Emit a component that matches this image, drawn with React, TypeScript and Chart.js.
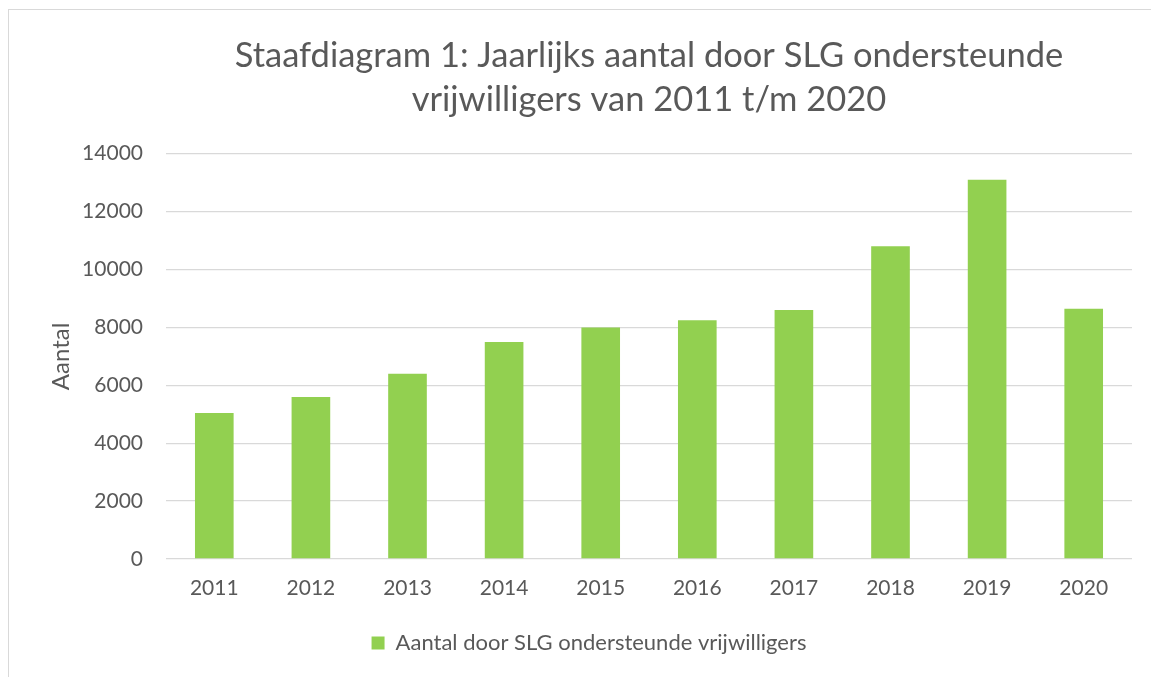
import React, { useEffect, useRef } from "react";
import { Chart, registerables } from "chart.js";

Chart.register(...registerables);

const years = ["2011", "2012", "2013", "2014", "2015", "2016", "2017", "2018", "2019", "2020"];
const volunteers = [5040, 5600, 6400, 7500, 8000, 8250, 8600, 10800, 13100, 8640];
const titleLines = ["Staafdiagram 1: Jaarlijks aantal door SLG ondersteunde", "vrijwilligers van 2011 t/m 2020"];
const seriesLabel = "Aantal door SLG ondersteunde vrijwilligers";
const yAxisLabel = "Aantal";

const FONT = "Lato, 'Open Sans', sans-serif";
const TEXT = "#595959";

export default function App() {
  const ref = useRef<HTMLCanvasElement | null>(null);

  useEffect(() => {
    if (!ref.current) return;
    const chart = new Chart(ref.current, {
      type: "bar",
      data: {
        labels: years,
        datasets: [
          {
            label: seriesLabel,
            data: volunteers,
            backgroundColor: "#92d050",
            borderWidth: 0,
            barPercentage: 0.4,
            categoryPercentage: 1,
          },
        ],
      },
      options: {
        responsive: false,
        animation: false,
        layout: { padding: { left: 0, right: 0, top: 0, bottom: 13 } },
        plugins: {
          title: {
            display: true,
            text: titleLines,
            color: TEXT,
            fullSize: false,
            font: { family: FONT, size: 34.5, weight: "normal", lineHeight: 1.3 },
            padding: { top: 33, bottom: 31 },
          },
          legend: {
            display: true,
            position: "bottom",
            labels: {
              color: TEXT,
              boxWidth: 13,
              boxHeight: 13,
              padding: 10,
              font: { family: FONT, size: 22 },
            },
          },
          tooltip: { enabled: false },
        },
        scales: {
          x: {
            grid: { display: false, drawTicks: false },
            border: { display: false },
            ticks: { color: TEXT, font: { family: FONT, size: 21 }, padding: 17 },
            afterFit: (s: any) => {
              s.height = 63;
            },
          },
          y: {
            min: 0,
            max: 14000,
            position: "left",
            ticks: {
              stepSize: 2000,
              color: TEXT,
              font: { family: FONT, size: 21 },
              padding: 23,
              callback: (v: any) => String(v),
            },
            grid: { color: "#d9d9d9", lineWidth: 1.3, drawTicks: false },
            border: { display: false },
            title: {
              display: true,
              text: yAxisLabel,
              color: TEXT,
              font: { family: FONT, size: 24, lineHeight: 1.2 },
              padding: { top: 47, bottom: 0 },
            },
            afterFit: (s: any) => {
              s.width = 166;
            },
          },
          yRight: {
            position: "right",
            display: true,
            min: 0,
            max: 14000,
            ticks: { display: false },
            grid: { display: false, drawTicks: false },
            border: { display: false },
            afterFit: (s: any) => {
              s.width = 46;
            },
          },
        },
      },
    });
    return () => chart.destroy();
  }, []);

  return (
    <div
      style={{
        position: "fixed",
        left: 0,
        top: 0,
        width: 1151,
        height: 677,
        overflow: "hidden",
        background: "#ffffff",
      }}
    >
      <div
        style={{
          position: "absolute",
          left: 8,
          top: 9,
          width: 1300,
          height: 900,
          border: "1px solid #d9d9d9",
          boxSizing: "border-box",
        }}
      />
      <canvas
        ref={ref}
        width={1178}
        height={677}
        style={{ position: "absolute", left: 0, top: 0, width: 1178, height: 677 }}
      />
    </div>
  );
}
